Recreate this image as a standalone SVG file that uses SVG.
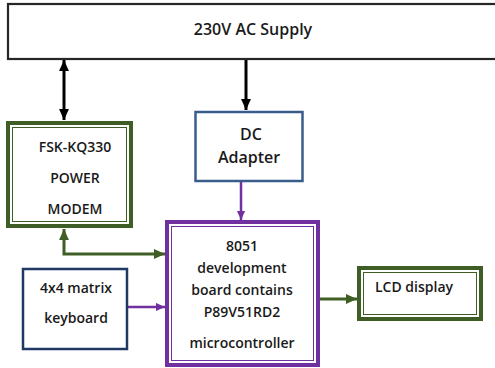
<svg xmlns="http://www.w3.org/2000/svg" width="495" height="368" viewBox="0 0 495 368">
<defs>
<style>
.t{font-family:"Open Sans","Liberation Sans",sans-serif;font-weight:600;fill:#1a1a1a;text-anchor:middle}
.g{fill:#fff;stroke:#3f5e25}
.p{fill:#fff;stroke:#7030a0}
</style>
<marker id="hb" markerUnits="userSpaceOnUse" markerWidth="11" markerHeight="11" viewBox="0 0 10 10" refX="10" refY="5" orient="auto-start-reverse"><path d="M0,0.5 L10,5 L0,9.5 Z" fill="#000"/></marker>
<marker id="hg" markerUnits="userSpaceOnUse" markerWidth="11" markerHeight="11" viewBox="0 0 10 10" refX="10" refY="5" orient="auto-start-reverse"><path d="M0,0.5 L10,5 L0,9.5 Z" fill="#3f5e25"/></marker>
<marker id="hp" markerUnits="userSpaceOnUse" markerWidth="9" markerHeight="9" viewBox="0 0 10 10" refX="10" refY="5" orient="auto"><path d="M0,0.5 L10,5 L0,9.5 Z" fill="#7030a0"/></marker>
</defs>
<rect width="495" height="368" fill="#fff"/>
<g id="connectors" fill="none">
<line x1="64" y1="60" x2="64" y2="120" stroke="#000" stroke-width="3" marker-start="url(#hb)" marker-end="url(#hb)"/>
<line x1="246" y1="59" x2="246" y2="110" stroke="#000" stroke-width="3" marker-end="url(#hb)"/>
<line x1="241" y1="182" x2="241" y2="220" stroke="#7030a0" stroke-width="2.5" marker-end="url(#hp)"/>
<polyline points="64,229 64,254 165,254" stroke="#3f5e25" stroke-width="3" marker-start="url(#hg)" marker-end="url(#hg)"/>
<line x1="128" y1="307" x2="165" y2="307" stroke="#7030a0" stroke-width="2.5" marker-end="url(#hp)"/>
<line x1="320" y1="299" x2="357" y2="299" stroke="#3f5e25" stroke-width="3" marker-end="url(#hg)"/>
</g>
<g id="ac-supply">
<rect x="8" y="4" width="500" height="55" fill="#fff" stroke="#262626" stroke-width="2.2"/>
<text class="t" x="253" y="35" font-size="16">230V AC Supply</text>
</g>
<g id="power-modem">
<rect class="g" x="8" y="123" width="123" height="103" stroke-width="4"/>
<rect x="12.5" y="127.5" width="114" height="94" fill="none" stroke="#3f5e25" stroke-width="1"/>
<text class="t" x="75" y="152" font-size="14">FSK-KQ330</text>
<text class="t" x="75" y="183" font-size="14">POWER</text>
<text class="t" x="75" y="214" font-size="14">MODEM</text>
</g>
<g id="dc-adapter">
<rect x="195.5" y="112" width="107" height="69" fill="#fff" stroke="#385d8a" stroke-width="2.5"/>
<text class="t" x="251" y="140" font-size="16">DC</text>
<text class="t" x="249" y="163" font-size="16">Adapter</text>
</g>
<g id="microcontroller">
<rect class="p" x="167" y="222" width="151" height="143" stroke-width="4"/>
<rect x="171.5" y="226.5" width="142" height="134" fill="none" stroke="#7030a0" stroke-width="1"/>
<text class="t" x="242" y="251" font-size="14">8051</text>
<text class="t" x="242" y="273" font-size="14">development</text>
<text class="t" x="242" y="295" font-size="14">board contains</text>
<text class="t" x="242" y="317" font-size="14">P89V51RD2</text>
<text class="t" x="242" y="348" font-size="14">microcontroller</text>
</g>
<g id="keyboard">
<rect x="23" y="269" width="104" height="80" fill="#fff" stroke="#203864" stroke-width="2.5"/>
<text class="t" x="76" y="293" font-size="14">4x4 matrix</text>
<text class="t" x="76" y="323" font-size="14">keyboard</text>
</g>
<g id="lcd">
<rect class="g" x="359" y="268" width="122" height="51" stroke-width="4"/>
<rect x="363.5" y="272.5" width="113" height="42" fill="none" stroke="#3f5e25" stroke-width="1"/>
<text class="t" x="414" y="292" font-size="14">LCD display</text>
</g>
</svg>
